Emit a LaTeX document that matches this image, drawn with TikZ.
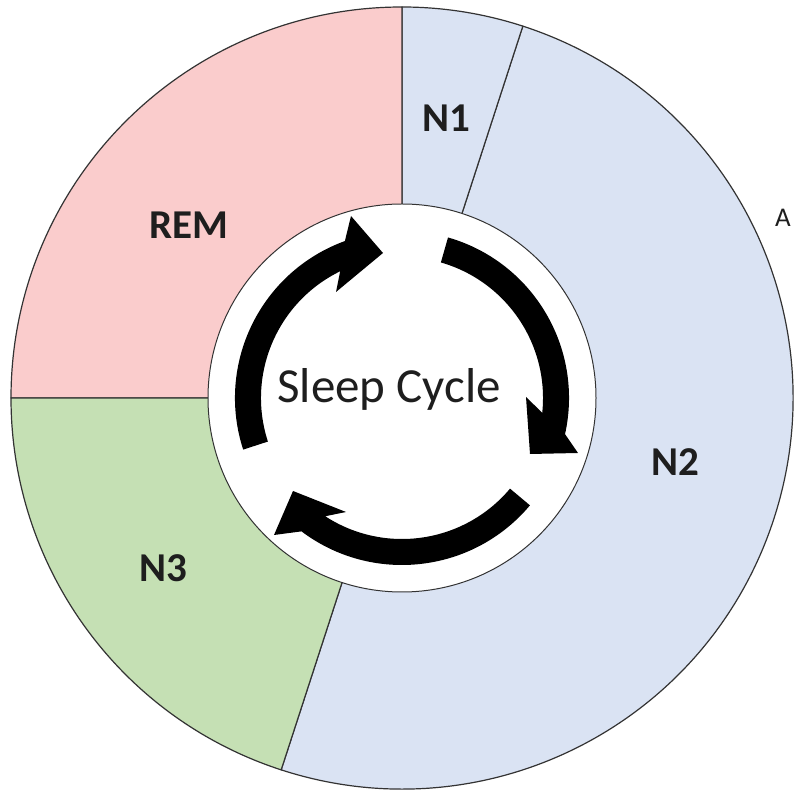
\documentclass[tikz,border=0pt]{standalone}
\usepackage{fontspec}
\setmainfont{Carlito}
\definecolor{remcol}{HTML}{FACCCC}
\definecolor{ncol}{HTML}{DAE3F3}
\definecolor{n3col}{HTML}{C5E0B4}
\definecolor{linegray}{HTML}{333333}
\definecolor{labeltext}{HTML}{1E1E1E}
\begin{document}
\begin{tikzpicture}[x=1pt,y=1pt,
  seg/.style={draw=linegray, line width=1.2pt, line join=round},
  lbl/.style={font=\fontsize{41}{48}\selectfont\bfseries, text=labeltext, inner sep=0pt},
  cyc/.style={fill=black}]
\clip (0,0) rectangle (795,792);
\fill[white] (0,0) rectangle (795,792);
\begin{scope}[shift={(402,394)}]
  % ring segments
  \filldraw[seg, fill=ncol]   (0,0) -- (72:391pt)  arc[start angle=72,  end angle=-108, radius=391pt] -- cycle;
  \filldraw[seg, fill=ncol]   (0,0) -- (72:391pt)  arc[start angle=72,  end angle=90,   radius=391pt] -- cycle;
  \filldraw[seg, fill=remcol] (0,0) -- (90:391pt)  arc[start angle=90,  end angle=180,  radius=391pt] -- cycle;
  \filldraw[seg, fill=n3col]  (0,0) -- (180:391pt) arc[start angle=180, end angle=252,  radius=391pt] -- cycle;
  % inner disc
  \filldraw[seg, fill=white, line width=1pt] (0,0) circle[radius=194pt];
  % cycle arrows
  \fill[cyc] (198:167pt) arc[start angle=198, end angle=110, radius=167pt]
     -- (-51,182) -- (-19,145) -- (-66,106) -- (116:141pt)
     arc[start angle=116, end angle=198, radius=141pt] -- cycle;
  \fill[cyc] (74:167pt) arc[start angle=74, end angle=-12.5, radius=167pt]
     -- (176,-55) -- (128,-56) -- (124,1) -- (-6:141pt)
     arc[start angle=-6, end angle=74, radius=141pt] -- cycle;
  \fill[cyc] (-40:167pt) arc[start angle=-40, end angle=-127, radius=167pt]
     -- (-128,-137) -- (-109,-93) -- (-56,-114) -- (-123:141pt)
     arc[start angle=-123, end angle=-40, radius=141pt] -- cycle;
\end{scope}
% labels
\node[lbl] (rem) at (189,567) {REM};
\node[lbl] (n1) at (446,674) {N1};
\node[lbl] (n2) at (675,330) {N2};
\node[lbl] (n3) at (163,224) {N3};
\node[font=\fontsize{49}{58}\selectfont, text=labeltext, anchor=base, inner sep=0pt] (title) at (389,389) {Sleep Cycle};
\node[font=\fontsize{27}{32}\selectfont, text=labeltext, anchor=base west, inner sep=0pt] (a) at (775,565) {A};
\end{tikzpicture}
\end{document}
